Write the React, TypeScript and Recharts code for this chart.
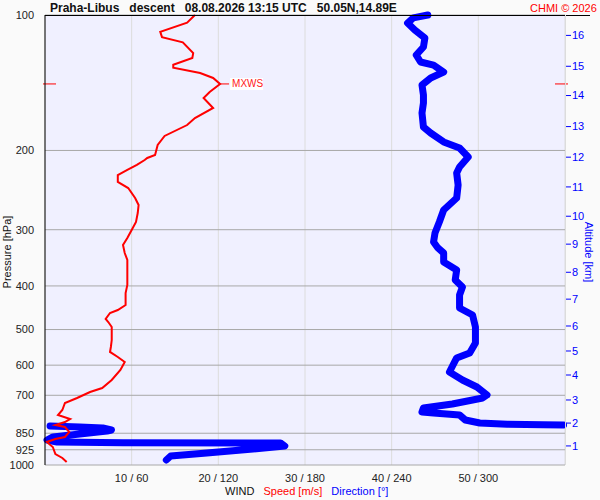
import { LineChart, Line, XAxis, YAxis, CartesianGrid, ReferenceLine, ReferenceDot } from "recharts";

// pressure levels on the left axis (hPa)
const levels = [100, 200, 300, 400, 500, 600, 700, 850, 925, 1000];

// wind speed profile (m/s), top to bottom
const speedP = [
  100, 104, 109, 112, 115, 121.5, 124.6, 129, 131, 134.6, 138, 142.3, 148.3, 152.9, 160.9, 169.4, 175.6,
  185.7, 194.5, 204.7, 207.8, 210, 215.4, 221, 226.8, 235, 242.4, 255, 264.4, 275.4, 288.4, 300.4, 313,
  324.4, 338, 350.3, 363.1, 378.2, 398.1, 414.8, 441, 452.4, 459.4, 473.7, 481.1, 493.6, 527.5, 546.7,
  560.8, 575.4, 590.3, 615, 647.3, 674.4, 688.3, 709.7, 728.1, 754.7, 774.3, 790.2, 802.5, 814.9, 823.3,
  844.5, 866.4, 875.3, 888.9, 912, 945.3, 964.7, 984.8,
];
const speedMs = [
  17.3, 16.4, 13.3, 13.5, 15.9, 17.1, 17.0, 14.8, 14.8, 17.9, 19.4, 20.2, 19.0, 18.3, 19.4, 17.3, 16.4,
  13.8, 13.0, 12.7, 11.8, 11.5, 10.6, 9.5, 8.4, 8.4, 9.6, 10.4, 10.8, 10.7, 10.5, 10.0, 9.5,
  9.0, 9.2, 9.5, 9.5, 9.5, 9.5, 9.3, 9.3, 8.4, 7.5, 7.0, 7.3, 7.7, 7.7, 7.6,
  7.5, 8.4, 9.2, 8.7, 7.7, 6.6, 5.2, 3.7, 2.3, 2.0, 1.5, 2.9, 2.3, 1.2, 2.3,
  2.8, 2.3, 1.2, 0.2, 0.9, 1.2, 2.0, 2.5,
];

// wind direction profile (deg), top to bottom; null = wrap past north
const dirP = [
  100, 101.5, 104.2, 108, 112.5, 117.8, 122.7, 127.2, 129.2, 133.9, 138, 143.1, 150.6, 156.9, 165.1, 177.4,
  182.9, 191.5, 197.5, 206.8, 217.6, 224.4, 238.7, 255.1, 271.2, 288.4, 305.1, 319.5, 329.4, 338, 353.9,
  368.7, 388, 402.2, 419, 447.8, 464.2, 493.6, 535.6, 563.7, 578.3, 621.4, 647.3, 670.9, 698.9, 709.7,
  731.9, 747, 762.5, 766.4, 774.3, 794.3, 806.6, 812, 814, 815, 817, 819, 823.3, 827.5, 836, 840.2, 853.2,
  866.4, 879.9, 888.9, 892, 893, 893.5, 907.4, 921.3, 940.4, 955, 974.7,
];
const dirDeg = [
  265, 255, 251, 256, 263, 262, 257, 260, 269, 276, 267, 261, 262, 262, 261, 262,
  267, 276, 287, 293, 287, 285, 286, 285, 276, 273, 270, 269, 272, 276, 276,
  285, 284, 289, 287, 287, 296, 298, 298, 294, 285, 280, 289, 299, 306, 303,
  282, 262, 261, 269, 287, 291, 301, 320, 345, 359, null, 3.5, 24, 40, 46, 43, 24,
  5.5, 1.4, 8.3, 54, 144, 163, 166, 144, 112, 87, 84,
];

// altitude ticks on the right axis: km and the pressure they sit at
const altKm = [1, 2, 3, 4, 5, 6, 7, 8, 9, 10, 11, 12, 13, 14, 15, 16];
const altP = [907, 807, 717, 631, 558, 491, 428, 373, 323, 280, 241, 207, 177, 151, 130, 111];

const windTicks = [10, 20, 30, 40, 50, 60];
const windTickLabels = ["10 / 60", "20 / 120", "30 / 180", "40 / 240", "50 / 300", ""];

const speedRows = speedP.map((p, i) => ({ p, speed: speedMs[i] }));
const dirRows = dirP.map((p, i) => ({ p, dir: dirDeg[i] }));
// the direction trace wraps past north once: draw it as two pieces
const wrapIdx = dirDeg.indexOf(null);
const dirUpper = dirRows.slice(0, wrapIdx);
const dirLower = dirRows.slice(wrapIdx + 1);

const maxIdx = speedMs.indexOf(Math.max(...speedMs));
const maxSpeed = speedMs[maxIdx];
const maxP = speedP[maxIdx];

const font = '"Liberation Sans", Arial, sans-serif';

export default function App() {
  return (
    <div style={{ position: "absolute", left: 0, top: 0, width: 600, height: 500, background: "#fafafa", fontFamily: font }}>
      <LineChart layout="vertical" width={600} height={500} margin={{ top: 15, right: 0, bottom: 0, left: 0 }}>
        <CartesianGrid xAxisId="spd" yAxisId="p" horizontal={false} stroke="#dcdcdc" fill="#f0f0ff" fillOpacity={1} />
        <CartesianGrid xAxisId="spd" yAxisId="p" vertical={false} stroke="#a8a8a8" />
        <XAxis
          xAxisId="spd"
          type="number"
          domain={[0, 60]}
          ticks={windTicks}
          interval={0}
          height={35}
          axisLine={false}
          tickLine={false}
          tickMargin={3}
          tickFormatter={(v: number) => windTickLabels[windTicks.indexOf(v)]}
          tick={{ fontSize: 11, fill: "#222", fontFamily: font }}
        />
        <XAxis xAxisId="dir" orientation="top" type="number" domain={[0, 360]} hide />
        <YAxis
          yAxisId="p"
          type="number"
          dataKey="p"
          scale="log"
          domain={[100, 1000]}
          ticks={levels}
          interval={0}
          width={45}
          axisLine={{ stroke: "#000" }}
          tickLine={false}
          tickMargin={5}
          tick={{ fontSize: 11, fill: "#222", fontFamily: font }}
        />
        <YAxis
          yAxisId="alt"
          orientation="right"
          type="number"
          dataKey="p"
          scale="log"
          domain={[100, 1000]}
          ticks={altP}
          interval={0}
          width={35}
          axisLine={false}
          tickLine={{ stroke: "#0000ff" }}
          tickSize={6}
          tickMargin={1}
          tickFormatter={(v: number) => String(altKm[altP.indexOf(v)])}
          tick={{ fontSize: 11, fill: "#0000ff", fontFamily: font }}
        />
        <Line
          xAxisId="dir"
          yAxisId="p"
          data={dirUpper}
          dataKey="dir"
          stroke="#0000ff"
          strokeWidth={7}
          strokeLinecap="round"
          strokeLinejoin="round"
          dot={false}
          isAnimationActive={false}
        />
        <Line
          xAxisId="dir"
          yAxisId="p"
          data={dirLower}
          dataKey="dir"
          stroke="#0000ff"
          strokeWidth={7}
          strokeLinecap="round"
          strokeLinejoin="round"
          dot={false}
          isAnimationActive={false}
        />
        <Line
          xAxisId="spd"
          yAxisId="alt"
          data={speedRows}
          dataKey="speed"
          stroke="#ff0000"
          strokeWidth={2}
          dot={false}
          isAnimationActive={false}
        />
        <ReferenceLine
          xAxisId="spd"
          yAxisId="p"
          y={maxP}
          shape={(props: any) => (
            <g>
              <line x1={props.x1 - 2} x2={props.x1 + 11} y1={props.y1} y2={props.y1} stroke="#ff0000" />
              <line x1={props.x2 - 10} x2={props.x2 + 3} y1={props.y2} y2={props.y2} stroke="#ff0000" />
            </g>
          )}
        />
        <ReferenceDot
          xAxisId="spd"
          yAxisId="p"
          x={maxSpeed}
          y={maxP}
          shape={(props: any) => (
            <g>
              <line x1={props.cx} x2={props.cx + 9} y1={props.cy} y2={props.cy} stroke="#ff0000" />
              <rect x={props.cx + 10} y={props.cy - 6} width={33} height={12} fill="#fff" />
              <text x={props.cx + 12} y={props.cy} dy="0.35em" fontSize={10} fill="#ff2020" fontFamily={font}>
                MXWS
              </text>
            </g>
          )}
        />
      </LineChart>
      <div style={{ position: "absolute", left: 45, top: 15, width: 545, height: 1, background: "#000" }} />
      <div style={{ position: "absolute", left: 565, top: 15, width: 1, height: 450, background: "#dcdcdc" }} />
      <div style={{ position: "absolute", left: 50, top: 1, fontSize: 12, lineHeight: "14px", fontWeight: "bold", whiteSpace: "pre", color: "#111" }}>
        {"Praha-Libus   descent   08.08.2026 13:15 UTC   50.05N,14.89E"}
      </div>
      <div style={{ position: "absolute", left: 530, top: 1, fontSize: 11, lineHeight: "14px", color: "#ff0000", whiteSpace: "pre" }}>
        CHMI © 2026
      </div>
      <div
        style={{
          position: "absolute",
          left: 7,
          top: 252,
          transform: "translate(-50%, -50%) rotate(-90deg)",
          fontSize: 11,
          whiteSpace: "nowrap",
          color: "#111",
        }}
      >
        Pressure [hPa]
      </div>
      <div
        style={{
          position: "absolute",
          left: 589,
          top: 252,
          transform: "translate(-50%, -50%) rotate(90deg)",
          fontSize: 11,
          whiteSpace: "nowrap",
          color: "#0000ff",
        }}
      >
        Altitude [km]
      </div>
      <div style={{ position: "absolute", left: 225, top: 485, fontSize: 11, lineHeight: "13px", whiteSpace: "pre" }}>
        <span style={{ color: "#111" }}>WIND</span>
        <span style={{ color: "#ff0000" }}>{"   Speed [m/s]"}</span>
        <span style={{ color: "#0000ff" }}>{"   Direction [°]"}</span>
      </div>
    </div>
  );
}
